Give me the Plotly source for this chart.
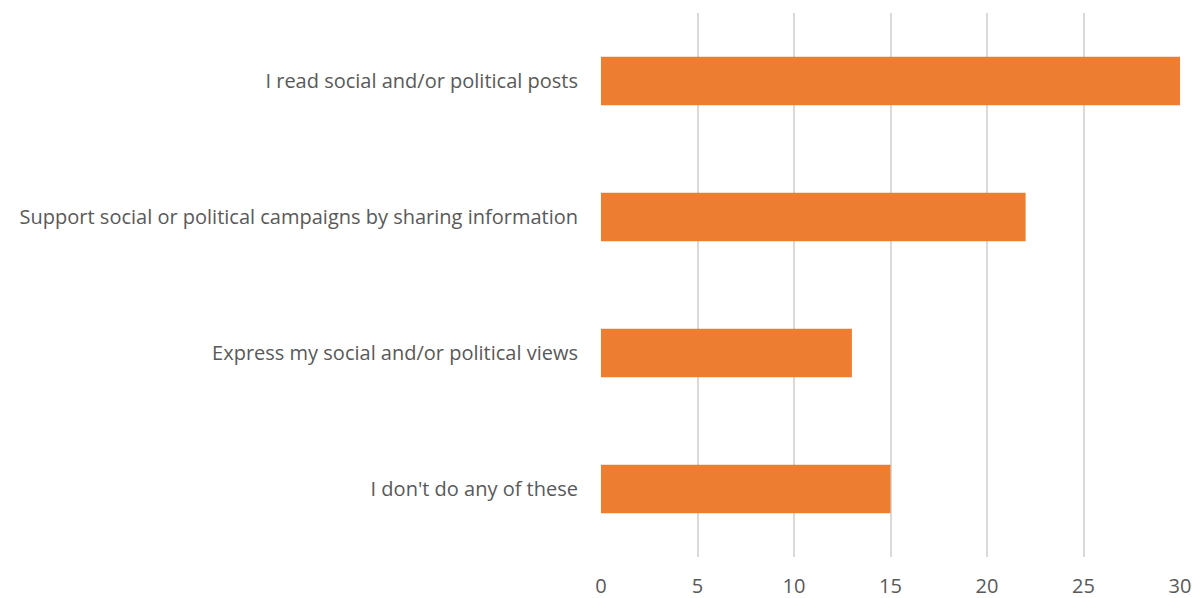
import plotly.graph_objects as go

# Survey responses: social/political activity online
categories = [
    "I don't do any of these",
    "Express my social and/or political views",
    "Support social or political campaigns by sharing information",
    "I read social and/or political posts",
]
counts = [15, 13, 22, 30]
x_ticks = [0, 5, 10, 15, 20, 25, 30]

font_family = "Open Sans, sans-serif"
grey = "#595959"

fig = go.Figure(
    go.Bar(
        x=counts,
        y=categories,
        orientation="h",
        marker=dict(color="#ED7D31", line=dict(width=0)),
        width=0.355,
    )
)

fig.update_layout(
    width=1197,
    height=598,
    margin=dict(l=601, r=17, t=13, b=41, autoexpand=False),
    paper_bgcolor="white",
    plot_bgcolor="white",
    showlegend=False,
    font=dict(family=font_family, size=20, color=grey),
)

fig.update_xaxes(
    range=[0, 30],
    tickvals=x_ticks,
    showgrid=True,
    gridcolor="#D9D9D9",
    gridwidth=2,
    zeroline=False,
    showline=False,
    ticks="",
    ticklabelstandoff=15,
    tickfont=dict(family=font_family, size=20, color=grey),
)

fig.update_yaxes(
    categoryorder="array",
    categoryarray=categories,
    showgrid=False,
    zeroline=False,
    showline=False,
    ticks="",
    ticklabelstandoff=22,
    tickfont=dict(family=font_family, size=20, color=grey),
)

fig.write_html("out.html")
